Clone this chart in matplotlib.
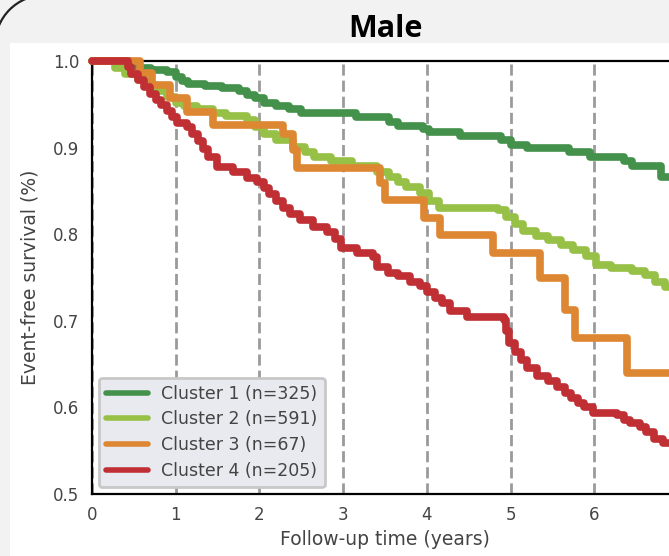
import matplotlib.pyplot as plt
from matplotlib.patches import Rectangle, Arc

# Kaplan-Meier style curves (time in years, survival)
t_c1 = [0, 0.45, 0.55, 0.7, 0.9, 1.0, 1.08, 1.15, 1.35, 1.55, 1.75, 1.85, 1.95, 2.05, 2.2, 2.35,
        2.5, 3.15, 3.55, 3.65, 3.95, 4.02, 4.4, 4.88, 5.0, 5.2, 5.7, 5.95, 6.35, 6.45, 6.8, 7.0]
s_c1 = [1.0, 0.995, 0.992, 0.990, 0.987, 0.982, 0.977, 0.973, 0.971, 0.969, 0.965, 0.961, 0.957,
        0.952, 0.948, 0.944, 0.940, 0.935, 0.930, 0.925, 0.921, 0.918, 0.913, 0.909, 0.903, 0.899,
        0.895, 0.889, 0.885, 0.879, 0.866, 0.866]

t_c2 = [0, 0.28, 0.4, 0.55, 0.7, 0.8, 0.9, 1.0, 1.1, 1.25, 1.45, 1.6, 1.85, 1.95, 2.05, 2.2, 2.4,
        2.55, 2.65, 2.85, 3.1, 3.4, 3.55, 3.65, 3.75, 3.92, 4.02, 4.15, 4.85, 4.95, 5.05, 5.15, 5.3,
        5.45, 5.6, 5.75, 5.9, 6.02, 6.2, 6.45, 6.6, 6.72, 6.85, 6.95, 7.0]
s_c2 = [1.0, 0.992, 0.985, 0.978, 0.970, 0.965, 0.958, 0.952, 0.948, 0.944, 0.940, 0.936, 0.932,
        0.924, 0.916, 0.909, 0.901, 0.895, 0.889, 0.884, 0.879, 0.872, 0.866, 0.860, 0.854, 0.848,
        0.838, 0.830, 0.828, 0.820, 0.812, 0.804, 0.798, 0.793, 0.788, 0.782, 0.775, 0.765, 0.761,
        0.758, 0.753, 0.745, 0.739, 0.735, 0.735]

t_c3 = [0, 0.57, 0.72, 0.93, 1.14, 1.45, 2.28, 2.40, 2.45, 3.44, 3.50, 3.96, 4.16, 4.79, 5.35,
        5.65, 5.77, 6.39, 7.0]
s_c3 = [1.0, 0.986, 0.972, 0.957, 0.941, 0.926, 0.916, 0.897, 0.876, 0.859, 0.839, 0.819, 0.799,
        0.778, 0.749, 0.712, 0.680, 0.640, 0.640]

t_c4 = [0, 0.43, 0.47, 0.55, 0.62, 0.69, 0.76, 0.83, 0.90, 0.96, 1.02, 1.14, 1.2, 1.27, 1.33,
        1.38, 1.49, 1.69, 1.85, 1.97, 2.05, 2.12, 2.2, 2.28, 2.36, 2.49, 2.64, 2.81, 2.9, 2.97,
        3.17, 3.36, 3.41, 3.53, 3.65, 3.8, 3.92, 4.0, 4.1, 4.18, 4.28, 4.48, 4.92, 4.95, 4.98,
        5.05, 5.12, 5.2, 5.32, 5.45, 5.56, 5.65, 5.72, 5.8, 5.88, 5.99, 6.27, 6.35, 6.43, 6.55,
        6.62, 6.71, 6.82, 7.0]
s_c4 = [1.0, 0.993, 0.985, 0.978, 0.970, 0.962, 0.955, 0.949, 0.942, 0.935, 0.928, 0.924, 0.916,
        0.908, 0.898, 0.889, 0.878, 0.872, 0.865, 0.860, 0.853, 0.846, 0.838, 0.830, 0.823, 0.816,
        0.808, 0.803, 0.795, 0.784, 0.778, 0.774, 0.762, 0.755, 0.752, 0.745, 0.740, 0.733, 0.726,
        0.720, 0.711, 0.704, 0.701, 0.688, 0.674, 0.664, 0.655, 0.645, 0.636, 0.630, 0.624, 0.617,
        0.611, 0.605, 0.600, 0.594, 0.591, 0.586, 0.582, 0.577, 0.572, 0.564, 0.559, 0.559]

labels = ['Cluster 1 (n=325)', 'Cluster 2 (n=591)', 'Cluster 3 (n=67)', 'Cluster 4 (n=205)']
colors = ['#43914b', '#97c046', '#de8733', '#bf2f33']
x_ticks = [0, 1, 2, 3, 4, 5, 6]
y_ticks = [0.5, 0.6, 0.7, 0.8, 0.9, 1.0]

fig = plt.figure(figsize=(6.69, 5.56), dpi=100, facecolor='#f2f2f2')
# white inner panel + rounded corner of the outer frame
fig.add_artist(Rectangle((10 / 669, 0), 1, (556 - 43) / 556, transform=fig.transFigure,
                         facecolor='white', edgecolor='none', zorder=-1))
fig.add_artist(Arc((0.45, 5.11), 1.0, 1.0, theta1=90, theta2=180,
                   transform=fig.dpi_scale_trans, color='#222222', lw=1.6))

fig.text(385 / 669, (556 - 37) / 556, 'Male', ha='center', va='baseline',
         fontsize=22, fontweight='bold', family='Open Sans')

ax = fig.add_axes([92 / 669, 62 / 556, 586 / 669, 433 / 556])
ax.set_facecolor('white')

curves = [(t_c1, s_c1), (t_c2, s_c2), (t_c3, s_c3), (t_c4, s_c4)]
for (t, s), c, lab in zip(curves, colors, labels):
    ax.step(t, s, where='post', color=c, lw=5.5, label=lab, clip_on=False,
            solid_capstyle='round', zorder=3)

ax.set_xlim(0, 7)
ax.set_ylim(0.5, 1.0)
ax.set_xticks(x_ticks)
ax.set_yticks(y_ticks)
ax.set_yticklabels([f'{v:.1f}' for v in y_ticks])
ax.xaxis.grid(True, linestyle=(0, (4, 1.8)), color='#9a9a9a', lw=2)
ax.set_axisbelow(True)
ax.tick_params(length=0, labelsize=12, colors='#444444', pad=9)
for sp in ax.spines.values():
    sp.set_color('black')
    sp.set_linewidth(1.6)

ax.set_xlabel('Follow-up time (years)', fontsize=13.5, color='#444444', labelpad=4)
ax.set_ylabel('Event-free survival (%)', fontsize=13.5, color='#444444', labelpad=10)

leg = ax.legend(loc='lower left', fontsize=12.5, frameon=True, facecolor='#e9e9f0',
                edgecolor='#c8c8c8', framealpha=1, handlelength=2.4, labelspacing=0.45,
                borderaxespad=0.4, fancybox=True)
leg.get_frame().set_linewidth(2)
for h in leg.legend_handles:
    h.set_linewidth(4)
for txt in leg.get_texts():
    txt.set_color('#444444')

plt.savefig('out.png', dpi=100, facecolor=fig.get_facecolor())
